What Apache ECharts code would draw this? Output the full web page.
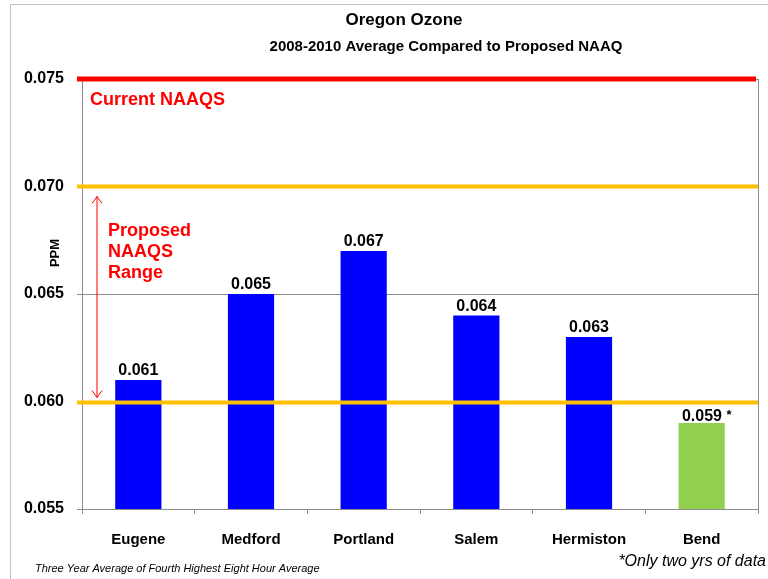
<!DOCTYPE html>
<html>
<head>
<meta charset="utf-8">
<script src="https://cdn.jsdelivr.net/npm/echarts@6/dist/echarts.min.js"></script>
<style>
  html, body { margin: 0; padding: 0; background: #fff; }
  #chart { width: 768px; height: 579px; }
</style>
</head>
<body>
<div id="chart"></div>
<script>
// data
const cities = ['Eugene', 'Medford', 'Portland', 'Salem', 'Hermiston', 'Bend'];
const ozone = [0.061, 0.065, 0.067, 0.064, 0.063, 0.059];
const currentNaaqs = 0.075;
const proposedRange = [0.060, 0.070];
const yTicks = [0.055, 0.060, 0.065, 0.070, 0.075];

const FONT = '"Liberation Sans", Arial, sans-serif';
const chart = echarts.init(document.getElementById('chart'));

chart.setOption({
    animation: false,
    backgroundColor: '#fff',
    grid: { left: 82, right: 10, top: 79, bottom: 70, outerBoundsMode: 'none', containLabel: false },
    xAxis: {
        type: 'category',
        data: cities,
        axisLine: { lineStyle: { color: '#8c8c8c', width: 1 } },
        axisTick: { show: true, length: 5, lineStyle: { color: '#8c8c8c' } },
        axisLabel: {
            margin: 23,
            color: '#000',
            fontFamily: FONT,
            fontWeight: 'bold',
            fontSize: 15
        }
    },
    yAxis: {
        type: 'value',
        min: yTicks[0],
        max: yTicks[yTicks.length - 1],
        interval: 0.005,
        name: 'PPM',
        nameLocation: 'middle',
        nameGap: 20,
        nameRotate: 90,
        nameMoveOverlap: false,
        nameTextStyle: { color: '#000', fontFamily: FONT, fontWeight: 'bold', fontSize: 13, padding: [0, 0, 0, 82] },
        axisLine: { show: true, lineStyle: { color: '#8c8c8c' } },
        axisTick: { show: true, length: 5, lineStyle: { color: '#8c8c8c' } },
        splitLine: { lineStyle: { color: '#8c8c8c', width: 1 } },
        axisLabel: {
            margin: 18,
            color: '#000',
            fontFamily: FONT,
            fontWeight: 'bold',
            fontSize: 16,
            formatter: v => v.toFixed(3)
        }
    },
    series: [{
        type: 'bar',
        barWidth: '41%',
        data: ozone.map((v, i) => ({
            value: v,
            itemStyle: { color: i === ozone.length - 1 ? '#92D050' : '#0000FF' },
            label: i === ozone.length - 1 ? {
                formatter: p => '{a|' + p.value.toFixed(3) + '} {s|*}',
                offset: [5, 3]
            } : undefined
        })),
        label: {
            show: true,
            position: 'top',
            distance: 1,
            color: '#000',
            fontFamily: FONT,
            fontWeight: 'bold',
            fontSize: 16,
            formatter: p => p.value.toFixed(3),
            rich: {
                a: { color: '#000', fontFamily: FONT, fontWeight: 'bold', fontSize: 16, lineHeight: 16 },
                s: { color: '#000', fontFamily: FONT, fontWeight: 'bold', fontSize: 13, lineHeight: 2, verticalAlign: 'top' }
            }
        }
    }]
});

// reference lines and annotations positioned from the axis scale
const toY = v => chart.convertToPixel({ yAxisIndex: 0 }, v);
const yTop = toY(proposedRange[1]);
const yBot = toY(proposedRange[0]);
const yCur = toY(currentNaaqs);
const xL = 77, xR = 758;

chart.setOption({
    graphic: [
        {
            type: 'rect',
            shape: { x: 10.5, y: 4.5, width: 800, height: 600 },
            style: { fill: 'none', stroke: '#c0c0c0', lineWidth: 1 },
            z: -1
        },
        {
            type: 'line',
            shape: { x1: xR + 0.5, y1: yCur, x2: xR + 0.5, y2: 514 },
            style: { stroke: '#8c8c8c', lineWidth: 1 }
        },
        {
            type: 'line', z: 50,
            shape: { x1: xL, y1: yCur, x2: xR - 2, y2: yCur },
            style: { stroke: '#FF0000', lineWidth: 5 }
        },
        {
            type: 'line', z: 50,
            shape: { x1: xL, y1: yTop, x2: xR, y2: yTop },
            style: { stroke: '#FFC000', lineWidth: 4 }
        },
        {
            type: 'line', z: 50,
            shape: { x1: xL, y1: yBot + 1, x2: xR, y2: yBot + 1 },
            style: { stroke: '#FFC000', lineWidth: 4 }
        },
        {
            type: 'text', x: 404, y: 20,
            style: { text: 'Oregon Ozone', font: 'bold 17px ' + FONT, fill: '#000', align: 'center', verticalAlign: 'middle' }
        },
        {
            type: 'text', x: 446, y: 47,
            style: { text: '2008-2010 Average Compared to Proposed NAAQ', font: 'bold 15px ' + FONT, fill: '#000', align: 'center', verticalAlign: 'middle' }
        },
        {
            type: 'text', x: 90, y: yCur + 21,
            style: { text: 'Current NAAQS', font: 'bold 18px ' + FONT, fill: '#FF0000', verticalAlign: 'middle' }
        },
        {
            type: 'text', x: 108, y: 221,
            style: { text: 'Proposed\nNAAQS\nRange', font: 'bold 18px ' + FONT, fill: '#FF0000', lineHeight: 21 }
        },
        {
            type: 'line',
            shape: { x1: 97, y1: yTop + 10, x2: 97, y2: yBot - 4 },
            style: { stroke: '#FF0000', lineWidth: 1 }
        },
        {
            type: 'polyline',
            shape: { points: [[92, yTop + 17], [97, yTop + 10], [102, yTop + 17]] },
            style: { stroke: '#FF0000', lineWidth: 1, fill: 'none' }
        },
        {
            type: 'polyline',
            shape: { points: [[92, yBot - 11], [97, yBot - 4], [102, yBot - 11]] },
            style: { stroke: '#FF0000', lineWidth: 1, fill: 'none' }
        },
        {
            type: 'text', x: 35, y: 569,
            style: { text: 'Three Year Average of Fourth Highest Eight Hour Average', font: 'italic 11px ' + FONT, fill: '#000', verticalAlign: 'middle' }
        },
        {
            type: 'text', x: 766, y: 562,
            style: { text: '*Only two yrs of data', font: 'italic 16px ' + FONT, fill: '#000', align: 'right', verticalAlign: 'middle' }
        }
    ]
});
</script>
</body>
</html>
